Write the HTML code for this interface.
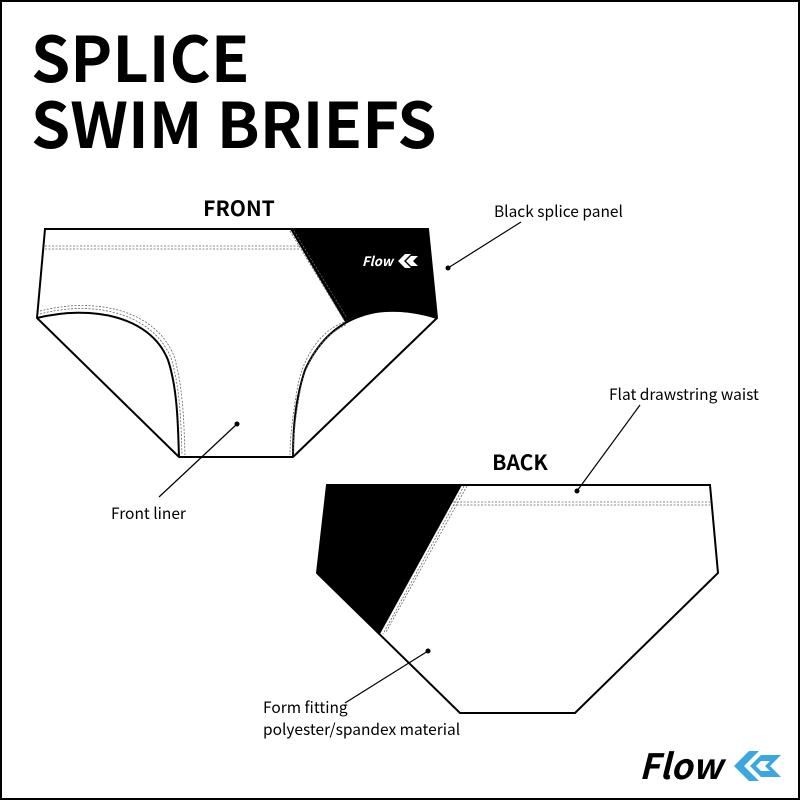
<!DOCTYPE html>
<html><head><meta charset="utf-8"><style>
html,body{margin:0;padding:0;background:#fff}
svg{display:block}
text{font-family:"Noto Sans CJK JP","Liberation Sans",sans-serif}
</style></head><body>
<svg width="800" height="800" viewBox="0 0 800 800" xmlns="http://www.w3.org/2000/svg">
<rect x="1" y="1" width="798" height="798" fill="#fff" stroke="#000" stroke-width="2"/>
<text x="31" y="82" font-size="63" font-weight="700">SPLICE</text>
<text x="31" y="148" font-size="63" font-weight="700">SWIM BRIEFS</text>
<text x="239" y="216" font-size="21" font-weight="700" text-anchor="middle">FRONT</text>
<text x="520" y="470" font-size="21" font-weight="700" text-anchor="middle">BACK</text>

<!-- FRONT -->
<path d="M45,229 L428,229 L437,318 L293,457 L179,457 L37,318 Z" fill="#fff" stroke="#000" stroke-width="2"/>
<path d="M290,229 L428,229 L437,318 C400,308 365,310 345,322 Z" fill="#000"/>
<g fill="none" stroke="#000" stroke-width="2">
<path d="M37,318 C90,305 150,315 168,360 C178,390 178,430 179,457"/>
<path d="M437,318 C380,300 330,315 305,370 C295,400 293,430 293,457"/>
</g>
<g fill="none" stroke="#666" stroke-width="0.8" stroke-dasharray="2,1.5">
<path d="M45,246 L300,246"/><path d="M45,249 L300,249"/>
<path d="M290,231 L344,320"/><path d="M294,231 L347,318"/>
<path d="M40,314 C92,300 152,312 171,358 C181,390 181,430 182,455"/>
<path d="M40,311 C94,297 155,309 174,356 C184,390 184,430 185,455"/>
<path d="M344,322 C318,332 302,360 297,390 C292,420 290,440 290,455"/>
<path d="M346,325 C321,336 305,362 300,392 C295,420 293,440 293,455"/>
</g>
<text x="362" y="266" font-size="13" font-weight="700" font-style="italic" fill="#fff" font-family="Liberation Sans">Flow</text>
<path d="M398,261 l7,-7 h6 l-7,7 l7,7 h-6 z M406,261 l5,-5 h7 l-5,5 l5,5 h-7 z" fill="#fff"/>

<!-- BACK -->
<path d="M327,485 L710,485 L718,573 L575,713 L460,713 L317,573 Z" fill="#fff" stroke="#000" stroke-width="2"/>
<path d="M327,485 L462,485 L380,634 L317,573 Z" fill="#000"/>
<g fill="none" stroke="#666" stroke-width="0.8" stroke-dasharray="2,1.5">
<path d="M453,502 L710,502"/><path d="M453,505 L710,505"/>
<path d="M464,486 L383,634"/><path d="M467,486 L386,632"/>
</g>

<!-- leaders -->
<g stroke="#000" stroke-width="1.2">
<line x1="448" y1="268" x2="521" y2="222"/>
<line x1="577" y1="491" x2="640" y2="405"/>
<line x1="237" y1="424" x2="159" y2="497"/>
<line x1="428" y1="651" x2="345" y2="703"/>
</g>
<g fill="#000"><circle cx="448" cy="268" r="2.5"/><circle cx="577" cy="491" r="2.5"/><circle cx="237" cy="424" r="2.5"/><circle cx="428" cy="651" r="2.5"/></g>

<g font-size="15.5">
<text x="494" y="217">Black splice panel</text>
<text x="609" y="400">Flat drawstring waist</text>
<text x="111" y="519">Front liner</text>
<text x="263" y="713">Form fitting</text>
<text x="263" y="735">polyester/spandex material</text>
</g>

<text x="639" y="779" font-size="35" font-weight="700" font-style="italic" font-family="Liberation Sans">Flow</text>
<path d="M734,766 l15,-15 h10 l-15,15 l15,15 h-10 z M750,766 l11,-11 h20 l-11,11 l11,11 h-20 z" fill="#3aa7e0"/>
<path d="M756,766 l5,-5 h9 l-5,5 l5,5 h-9 z" fill="#fff"/>
</svg>
</body></html>
